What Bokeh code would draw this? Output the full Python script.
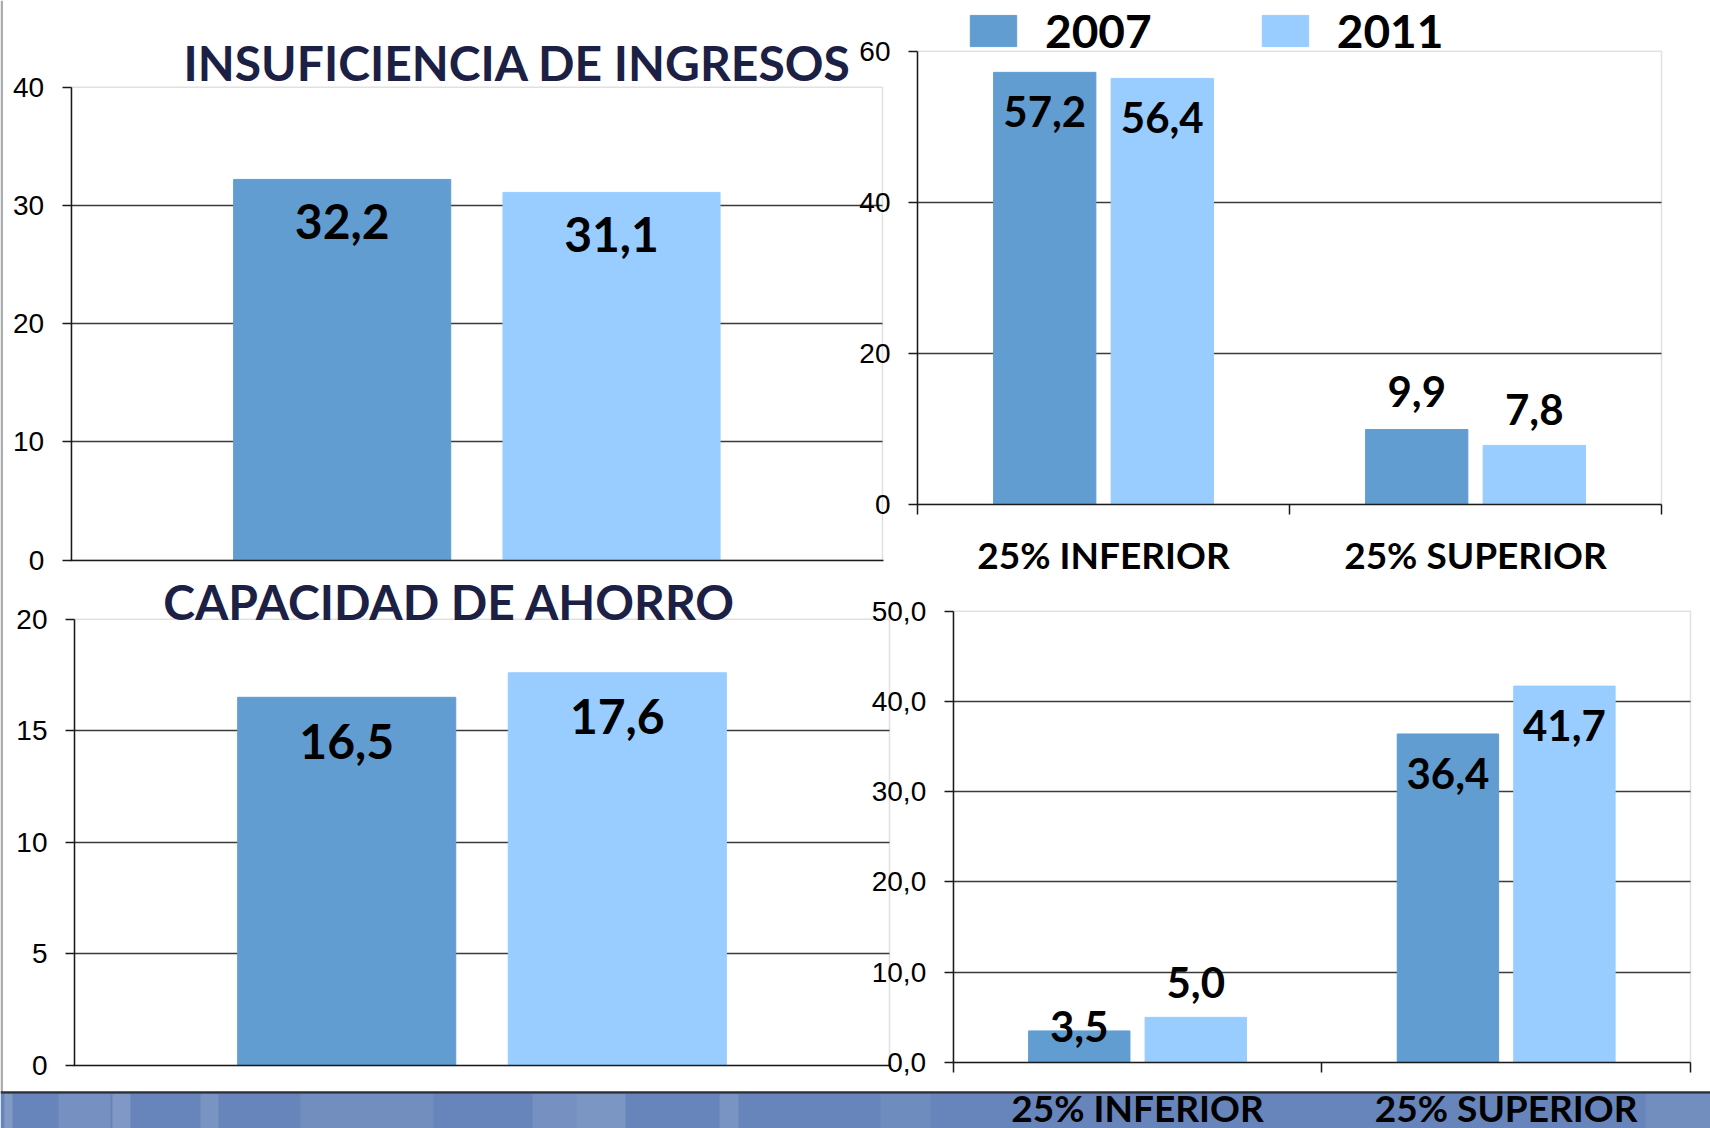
import numpy as np
from bokeh.plotting import figure
from bokeh.models import (Range1d, LinearAxis, FixedTicker, Grid, BoxAnnotation,
                          ColumnDataSource, Legend, LegendItem, Label, Span)
from bokeh.embed import file_html
from bokeh.resources import INLINE
from bokeh.core.properties import value

# ---------------- data ----------------
years = ["2007", "2011"]

title_ingresos = "INSUFICIENCIA DE INGRESOS"
ingresos = [32.2, 31.1]
ingresos_ticks = [0, 10, 20, 30, 40]

title_ahorro = "CAPACIDAD DE AHORRO"
ahorro = [16.5, 17.6]
ahorro_ticks = [0, 5, 10, 15, 20]

quartiles = ["25% INFERIOR", "25% SUPERIOR"]
ingresos_q_2007 = [57.2, 9.9]
ingresos_q_2011 = [56.4, 7.8]
ingresos_q_ticks = [0, 20, 40, 60]

ahorro_q_2007 = [3.5, 36.4]
ahorro_q_2011 = [5.0, 41.7]
ahorro_q_ticks = [0, 10, 20, 30, 40, 50]

# ---------------- styles ----------------
COLORS = ["#629DD1", "#99CCFF"]
BOLD = "Lato"
TICKF = "Liberation Sans"
NAVY = "#1C2045"
W, H = 1710, 1128
X0, Y0 = 0, 0


def fmt(v):
    return f"{v:.1f}".replace(".", ",")


def lin_range(d0, d1, p0, p1, P0, P1):
    k = (d1 - d0) / (p1 - p0)
    return Range1d(start=d0 + (P0 - p0) * k, end=d0 + (P1 - p0) * k)


p = figure(width=W, height=H, output_backend="svg", toolbar_location=None,
           x_axis_type=None, y_axis_type=None, min_border=0,
           x_range=Range1d(X0, X0 + W), y_range=Range1d(Y0 + H, Y0))
p.outline_line_color = None
p.background_fill_color = "white"
p.border_fill_color = "white"

# ---------------- slide decoration: bottom band and left border ----------------
p.add_layout(BoxAnnotation(left=X0, right=X0 + W, top=1093, bottom=Y0 + H,
                           fill_color="#6785BA", fill_alpha=1, line_color=None, level="underlay"))
for (a, b, al) in [(4, 12, 0.18), (58, 110, 0.10), (112, 130, 0.16), (200, 218, 0.12),
                   (300, 433, 0.08), (532, 576, 0.10), (576, 625, 0.14), (719, 738, 0.12),
                   (880, 930, 0.06), (1645, 1710, 0.08)]:
    p.add_layout(BoxAnnotation(left=a, right=b, top=1093, bottom=Y0 + H,
                               fill_color="white", fill_alpha=al, line_color=None, level="underlay"))
p.add_layout(Span(location=1092, dimension="width", line_color="#2B3038",
                  line_width=2.5, level="underlay"))
p.add_layout(BoxAnnotation(left=0, right=2.5, top=0, bottom=1092,
                           fill_color="#2B3038", line_color=None, level="underlay"))


def panel(name, ncat, ymax, xpx, ypx, yticks, ylabels, xmajor, xminor, xlabels, xstandoff=18):
    xn, yn = name + "_x", name + "_y"
    p.extra_x_ranges[xn] = lin_range(0, ncat, xpx[0], xpx[1], X0, X0 + W)
    p.extra_y_ranges[yn] = lin_range(0, ymax, ypx[0], ypx[1], Y0 + H, Y0)
    p.add_layout(BoxAnnotation(left=0, right=ncat, bottom=0, top=ymax,
                               x_range_name=xn, y_range_name=yn,
                               fill_color=None, line_color="#9C9C9C", line_width=1.5,
                               level="underlay"))
    p.add_layout(Grid(dimension=1, ticker=FixedTicker(ticks=yticks[1:-1]),
                      x_range_name=xn, y_range_name=yn, cross_bounds=(0, ncat),
                      grid_line_color="#3A3A3A", grid_line_width=1.3))
    ya = LinearAxis(x_range_name=xn, y_range_name=yn, fixed_location=0,
                    bounds=(0, ymax), ticker=FixedTicker(ticks=yticks),
                    major_label_overrides=dict(zip(yticks, ylabels)),
                    major_tick_out=9, major_tick_in=0, minor_tick_line_color=None,
                    axis_line_color="#1A1A1A", axis_line_width=1.5,
                    major_tick_line_color="#1A1A1A", major_tick_line_width=1.5,
                    major_label_standoff=18, major_label_text_font=TICKF,
                    major_label_text_font_size="28px", major_label_text_color="black")
    p.add_layout(ya, "left")
    eps = 0.001
    xa = LinearAxis(x_range_name=xn, y_range_name=yn, fixed_location=0,
                    bounds=(-eps, ncat + eps),
                    ticker=FixedTicker(ticks=xmajor, minor_ticks=xminor),
                    major_label_overrides=dict(zip(xmajor, xlabels)),
                    axis_line_color="#1A1A1A", axis_line_width=1.5,
                    major_tick_line_color=None, major_tick_out=10, major_tick_in=0,
                    minor_tick_line_color="#1A1A1A", minor_tick_line_width=1.5,
                    minor_tick_out=10, minor_tick_in=0,
                    major_label_standoff=xstandoff, major_label_text_font=BOLD,
                    major_label_text_font_style="bold",
                    major_label_text_font_size="37px", major_label_text_color="black")
    p.add_layout(xa, "below")
    return xn, yn


def bars(xn, yn, xc, vals, color, width, dys, size):
    src = ColumnDataSource(dict(x=list(xc), top=vals, lab=[fmt(v) for v in vals], dy=dys))
    r = p.vbar(x="x", top="top", bottom=0, width=width, source=src,
               fill_color=color, line_color=color, x_range_name=xn, y_range_name=yn)
    p.text(x="x", y="top", text="lab", y_offset="dy", source=src,
           x_range_name=xn, y_range_name=yn, text_align="center", text_baseline="middle",
           text_font=value(BOLD), text_font_style="bold", text_font_size=value(size),
           text_color="black")
    return r


# ---------------- top-left: insuficiencia de ingresos ----------------
xn, yn = panel("tl", 1, ingresos_ticks[-1], (70.7, 882), (559.5, 86.7),
               ingresos_ticks, [str(t) for t in ingresos_ticks], [0, 1], [], ["", ""])
off1 = np.array([-0.166, 0.166])
for i in range(len(years)):
    bars(xn, yn, [0.5 + off1[i]], [ingresos[i]], COLORS[i], 0.2676, [42], "48px")
p.add_layout(Label(x=517, y=62, text=title_ingresos, text_align="center",
                   text_baseline="alphabetic", text_font=BOLD, text_font_style="bold",
                   text_font_size="48px", text_color=NAVY))

# ---------------- bottom-left: capacidad de ahorro ----------------
xn, yn = panel("bl", 1, ahorro_ticks[-1], (74, 889), (1065, 618.7),
               ahorro_ticks, [str(t) for t in ahorro_ticks], [0, 1], [], ["", ""])
for i in range(len(years)):
    bars(xn, yn, [0.5 + off1[i]], [ahorro[i]], COLORS[i], 0.2676, [44], "48px")
p.add_layout(Label(x=449, y=601, text=title_ahorro, text_align="center",
                   text_baseline="alphabetic", text_font=BOLD, text_font_style="bold",
                   text_font_size="48px", text_color=NAVY))

# ---------------- top-right: ingresos by quartile ----------------
centers = np.arange(len(quartiles)) + 0.5
xn, yn = panel("tr", len(quartiles), ingresos_q_ticks[-1], (917, 1661), (503.8, 50.7),
               ingresos_q_ticks, [str(t) for t in ingresos_q_ticks],
               list(centers), list(range(len(quartiles) + 1)), quartiles)
r07 = bars(xn, yn, centers - 0.158, ingresos_q_2007, COLORS[0], 0.275, [39, -38], "42px")
r11 = bars(xn, yn, centers + 0.158, ingresos_q_2011, COLORS[1], 0.275, [39, -36], "42px")

# ---------------- bottom-right: ahorro by quartile ----------------
xn, yn = panel("br", len(quartiles), ahorro_q_ticks[-1], (952.7, 1690), (1062, 610.7),
               ahorro_q_ticks, [fmt(t) for t in ahorro_q_ticks],
               list(centers), list(range(len(quartiles) + 1)), quartiles, xstandoff=12)
bars(xn, yn, centers - 0.158, ahorro_q_2007, COLORS[0], 0.275, [-4, 40], "42px")
bars(xn, yn, centers + 0.158, ahorro_q_2011, COLORS[1], 0.275, [-35, 39], "42px")

# ---------------- legend ----------------
legend = Legend(items=[LegendItem(label=years[0], renderers=[r07]),
                       LegendItem(label=years[1], renderers=[r11])],
                orientation="horizontal", location=(964, 1070),
                glyph_width=58, glyph_height=39, label_standoff=23, spacing=104,
                label_text_font=BOLD, label_text_font_style="bold",
                label_text_font_size="46px", label_text_color="black",
                padding=0, margin=0, border_line_color=None, background_fill_alpha=0)
p.add_layout(legend)

open("out.html", "w").write(file_html(p, INLINE))
